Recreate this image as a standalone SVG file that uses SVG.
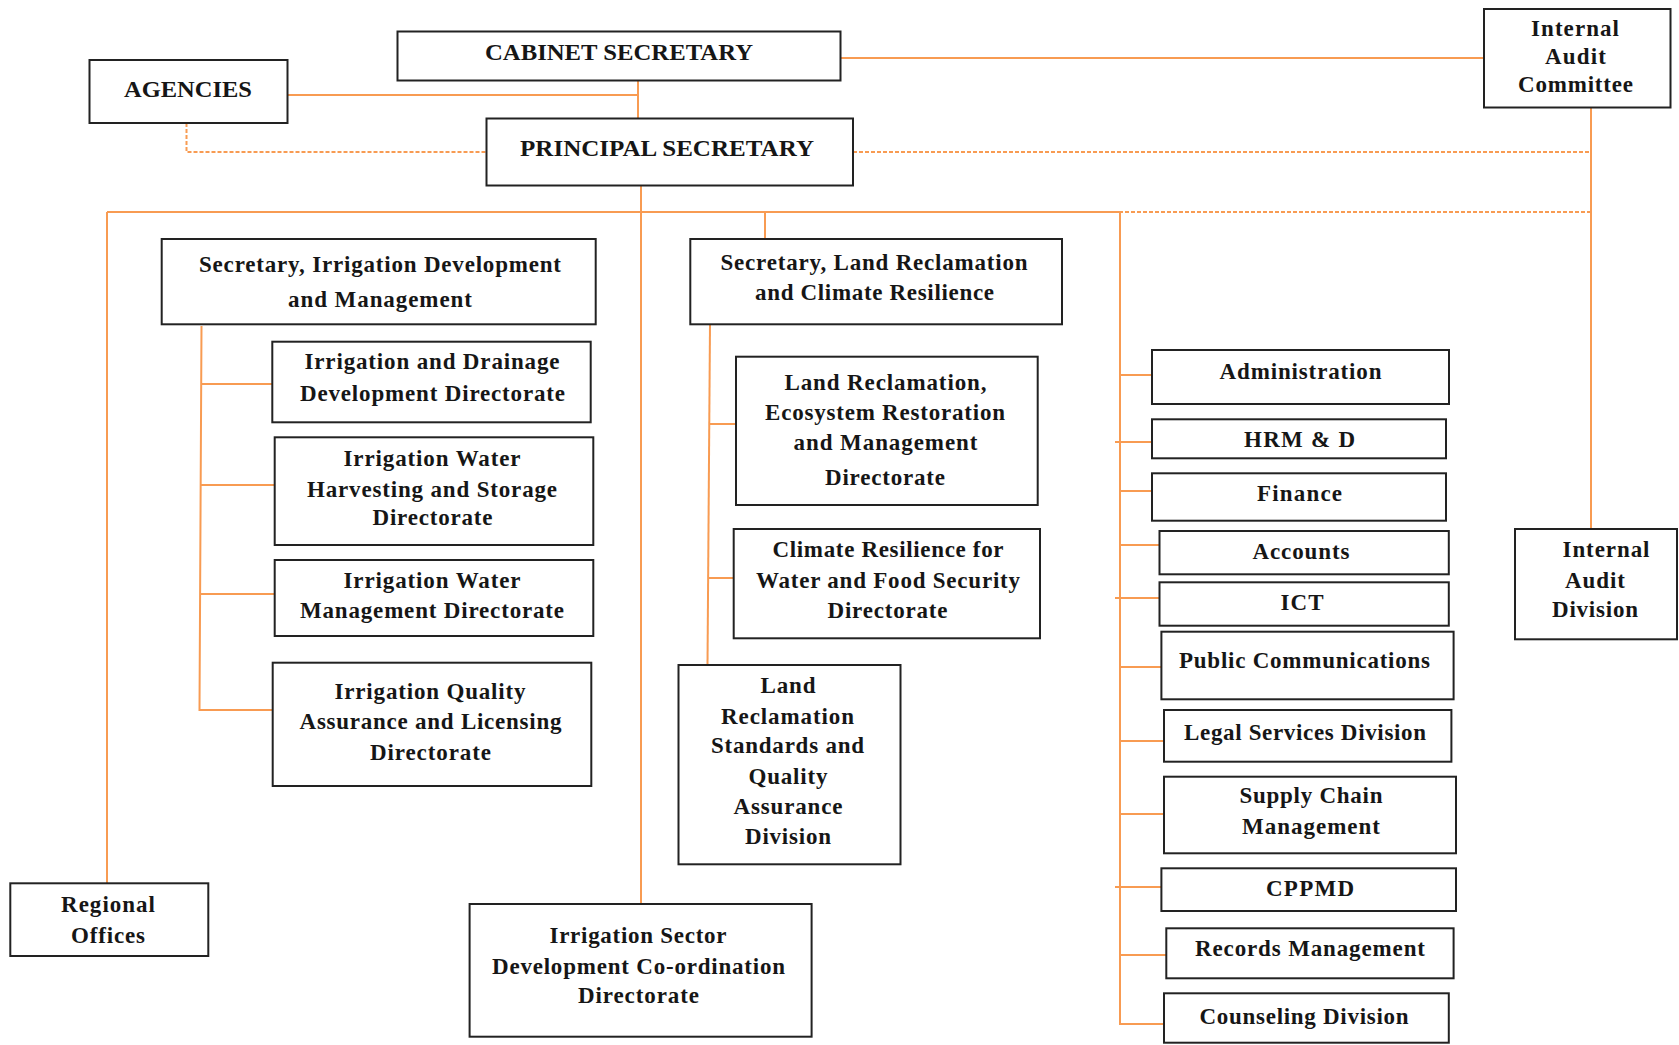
<svg xmlns="http://www.w3.org/2000/svg" width="1679" height="1045" viewBox="0 0 1679 1045">
<style>
.box{fill:#fff;stroke:#222;stroke-width:2}
.ln{fill:none;stroke:#F89B52;stroke-width:2}
.dash{fill:none;stroke:#F89B52;stroke-width:2;stroke-dasharray:4 2}
text{font-family:"Liberation Serif","Times New Roman",serif;font-weight:bold;font-size:23px;fill:#161616;text-anchor:middle}
</style>
<rect width="1679" height="1045" fill="#fff"/>
<g id="connectors">
<path class="ln" d="M840,58 H1484"/>
<path class="ln" d="M287,95 H638 M638,81 V118.5"/>
<path class="dash" d="M186.5,123 V152 H486.5"/>
<path class="dash" d="M853,152 H1591"/>
<path class="ln" d="M1591,107.5 V529"/>
<path class="ln" d="M641,185.5 V904"/>
<path class="ln" d="M107,212 H1119"/>
<path class="dash" d="M1119,212 H1591"/>
<path class="ln" d="M107,212 V883.3"/>
<path class="ln" d="M765,212 V239"/>
<path class="ln" d="M201.5,326 L199.5,710 H272.7"/>
<path class="ln" d="M201,384 H272.3 M200.5,485 H274.7 M200,594 H274.7"/>
<path class="ln" d="M710,324.3 L707.5,665"/>
<path class="ln" d="M709,424 H736 M708,578 H733.7"/>
<path class="ln" d="M1120,212 V1024 H1164"/>
<path class="ln" d="M1120,375 H1152 M1115,442 H1152 M1120,491 H1152 M1120,545 H1159.5 M1115,598 H1159.5 M1120,667 H1161.4 M1120,741 H1164 M1120,814 H1164 M1115,887 H1161.4 M1120,955 H1166.3"/>
</g>
<g id="cabinet"><rect class="box" x="397.5" y="31.5" width="443" height="49"/><text x="619" y="60" textLength="268" lengthAdjust="spacingAndGlyphs">CABINET SECRETARY</text></g>
<g id="agencies"><rect class="box" x="89.5" y="60" width="198" height="63"/><text x="188" y="96.5" textLength="128" lengthAdjust="spacingAndGlyphs">AGENCIES</text></g>
<g id="principal"><rect class="box" x="486.5" y="118.5" width="366.5" height="67"/><text x="667" y="156" textLength="294" lengthAdjust="spacingAndGlyphs">PRINCIPAL SECRETARY</text></g>
<g id="iac"><rect class="box" x="1484" y="9" width="186.5" height="98.5"/><text x="1575" y="36" textLength="88">Internal</text><text x="1575.5" y="64" textLength="61">Audit</text><text x="1575.5" y="92" textLength="115">Committee</text></g>
<g id="sec-irrigation"><rect class="box" x="161.7" y="239" width="434" height="85.3"/><text x="380" y="272" textLength="362">Secretary, Irrigation Development</text><text x="380" y="307" textLength="184">and Management</text></g>
<g id="irr-drainage"><rect class="box" x="272.3" y="341.7" width="318.4" height="80.6"/><text x="432" y="369" textLength="255">Irrigation and Drainage</text><text x="432.5" y="401" textLength="265">Development Directorate</text></g>
<g id="irr-harvesting"><rect class="box" x="274.7" y="437.3" width="318.6" height="107.7"/><text x="432" y="466" textLength="177">Irrigation Water</text><text x="432" y="496.5" textLength="250">Harvesting and Storage</text><text x="432.5" y="525" textLength="120">Directorate</text></g>
<g id="irr-water-mgmt"><rect class="box" x="274.7" y="560" width="318.6" height="76"/><text x="432" y="587.5" textLength="177">Irrigation Water</text><text x="432" y="618" textLength="264">Management Directorate</text></g>
<g id="irr-quality"><rect class="box" x="272.7" y="662.7" width="318.6" height="123.3"/><text x="430" y="698.5" textLength="191">Irrigation Quality</text><text x="430.5" y="729" textLength="262">Assurance and Licensing</text><text x="430.5" y="759.5" textLength="121">Directorate</text></g>
<g id="sec-land"><rect class="box" x="690.3" y="239" width="371.7" height="85.3"/><text x="874" y="269.5" textLength="307">Secretary, Land Reclamation</text><text x="874.5" y="300" textLength="239">and Climate Resilience</text></g>
<g id="land-ecosystem"><rect class="box" x="736" y="356.7" width="301.7" height="148.3"/><text x="885.5" y="390" textLength="202">Land Reclamation,</text><text x="885" y="420" textLength="240">Ecosystem Restoration</text><text x="885.5" y="449.5" textLength="184">and Management</text><text x="885" y="485" textLength="120">Directorate</text></g>
<g id="climate"><rect class="box" x="733.7" y="529" width="306.3" height="109.3"/><text x="888" y="556.5" textLength="231">Climate Resilience for</text><text x="888" y="587.5" textLength="264">Water and Food Security</text><text x="887.5" y="617.5" textLength="120">Directorate</text></g>
<g id="land-standards"><rect class="box" x="678.5" y="665" width="222" height="199.3"/><text x="788" y="692.5" textLength="55">Land</text><text x="787.5" y="723.5" textLength="133">Reclamation</text><text x="787.5" y="752.5" textLength="153">Standards and</text><text x="788" y="783.5" textLength="79">Quality</text><text x="788" y="813.5" textLength="109">Assurance</text><text x="788" y="844" textLength="86">Division</text></g>
<g id="regional"><rect class="box" x="10.3" y="883.3" width="198" height="72.7"/><text x="108" y="911.5" textLength="94">Regional</text><text x="108" y="942.5" textLength="74">Offices</text></g>
<g id="isdc"><rect class="box" x="469.6" y="904" width="342" height="132.7"/><text x="638" y="943" textLength="177">Irrigation Sector</text><text x="638.5" y="974" textLength="293">Development Co-ordination</text><text x="638.5" y="1002.5" textLength="121">Directorate</text></g>
<g id="administration"><rect class="box" x="1152" y="350" width="297" height="54"/><text x="1300.5" y="379" textLength="162">Administration</text></g>
<g id="hrm"><rect class="box" x="1152" y="419.3" width="294" height="39"/><text x="1299.5" y="447" textLength="111">HRM &amp; D</text></g>
<g id="finance"><rect class="box" x="1152" y="473.3" width="294" height="47.4"/><text x="1299.5" y="500.5" textLength="85">Finance</text></g>
<g id="accounts"><rect class="box" x="1159.5" y="531" width="289.3" height="43.3"/><text x="1301" y="558.5" textLength="97">Accounts</text></g>
<g id="ict"><rect class="box" x="1159.5" y="582.3" width="289.3" height="43.4"/><text x="1302" y="609.5" textLength="43">ICT</text></g>
<g id="public-comm"><rect class="box" x="1161.4" y="631.7" width="292.2" height="67.6"/><text x="1304.5" y="668" textLength="251">Public Communications</text></g>
<g id="legal"><rect class="box" x="1164" y="710" width="287.4" height="51.7"/><text x="1305" y="740" textLength="242">Legal Services Division</text></g>
<g id="supply-chain"><rect class="box" x="1164" y="776.7" width="292" height="76.6"/><text x="1311" y="802.5" textLength="143">Supply Chain</text><text x="1311" y="833.5" textLength="138">Management</text></g>
<g id="cppmd"><rect class="box" x="1161.4" y="868.3" width="294.6" height="42.7"/><text x="1310" y="896" textLength="88">CPPMD</text></g>
<g id="records"><rect class="box" x="1166.3" y="928.3" width="287.3" height="50"/><text x="1310" y="956" textLength="230">Records Management</text></g>
<g id="counseling"><rect class="box" x="1164" y="993.3" width="284.8" height="49.4"/><text x="1304" y="1023.5" textLength="209">Counseling Division</text></g>
<g id="iad"><rect class="box" x="1515" y="529" width="162" height="110.3"/><text x="1606" y="556.5" textLength="87">Internal</text><text x="1595" y="588" textLength="60">Audit</text><text x="1595" y="616.5" textLength="86">Division</text></g>
</svg>
